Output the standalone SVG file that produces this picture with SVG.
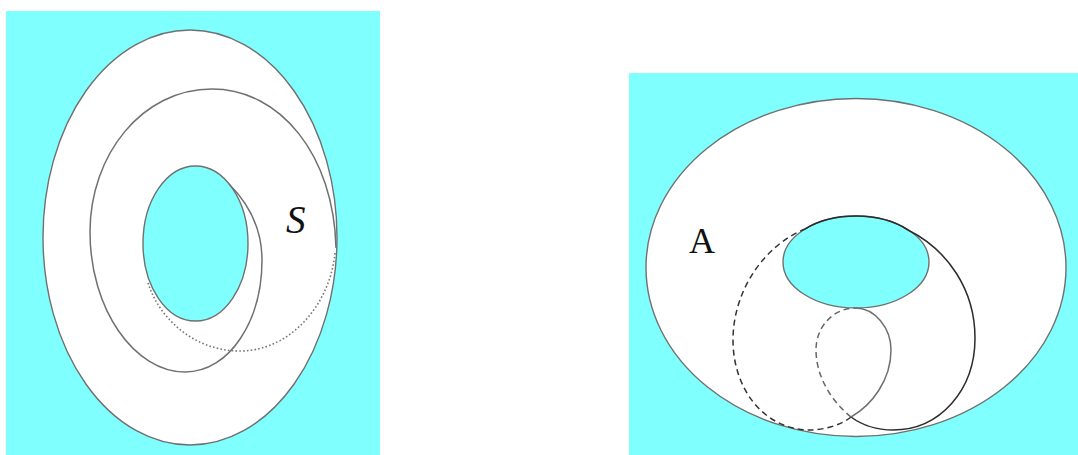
<svg xmlns="http://www.w3.org/2000/svg" width="1078" height="455" viewBox="0 0 1078 455">
<style>
.bg{fill:#80ffff}
.outer{fill:#fff;stroke:#707070;stroke-width:1.4}
.hole{fill:#80ffff;stroke:#707070;stroke-width:1.4}
.c{fill:none;stroke:#707070;stroke-width:1.5}
.k{fill:none;stroke:#2c2c2c;stroke-width:1.5}
.dot{fill:none;stroke:#777;stroke-width:1.6;stroke-dasharray:1.6 2.2}
.dash{fill:none;stroke:#333;stroke-width:1.5;stroke-dasharray:6 4}
.t{font-family:"Liberation Serif",serif;fill:#111}
</style>
<rect width="1078" height="455" fill="#fff"/>
<g id="left-surface">
<rect class="bg" x="6" y="11" width="374" height="444"/>
<ellipse class="outer" cx="190" cy="237.5" rx="147" ry="207.5"/>
<ellipse class="hole" cx="195.5" cy="243.5" rx="52.5" ry="77.5"/>
</g>
<g id="right-surface">
<rect class="bg" x="629" y="73" width="449" height="382"/>
<ellipse class="outer" cx="856" cy="267.5" rx="210" ry="169"/>
<ellipse class="hole" cx="856" cy="262" rx="73" ry="46"/>
</g>
<g id="connectors">
<path class="c" d="M336 248C334 155 280 89 212 89C142 89 90 155 90 232C90 310 135 372 185 372C230 372 262 320 262 260C262 228 248 203 229 184"/>
<path class="dot" d="M335 253C330 305 290 351 240 351C195 351 160 320 148 283"/>
<path class="k" d="M805 229A73 46 0 0 1 908 230C948 250 975 290 975 338C975 390 940 430 893 430C875 430 862 425 851 417"/>
<path class="dash" d="M851 417C840 426 822 430 810 430C765 430 733 390 733 340C733 290 765 245 805 229"/>
<path class="c" d="M855 308C875 308 891 328 891 350C891 380 872 405 851 417"/>
<path class="dash" style="stroke:#666" d="M851 417C830 400 816 375 816 350C816 325 835 308 855 308"/>
</g>
<g id="label-s"><text class="t" x="286" y="233" font-size="39" font-style="italic">S</text></g>
<g id="label-a"><text class="t" x="689" y="253" font-size="36">A</text></g>
</svg>
